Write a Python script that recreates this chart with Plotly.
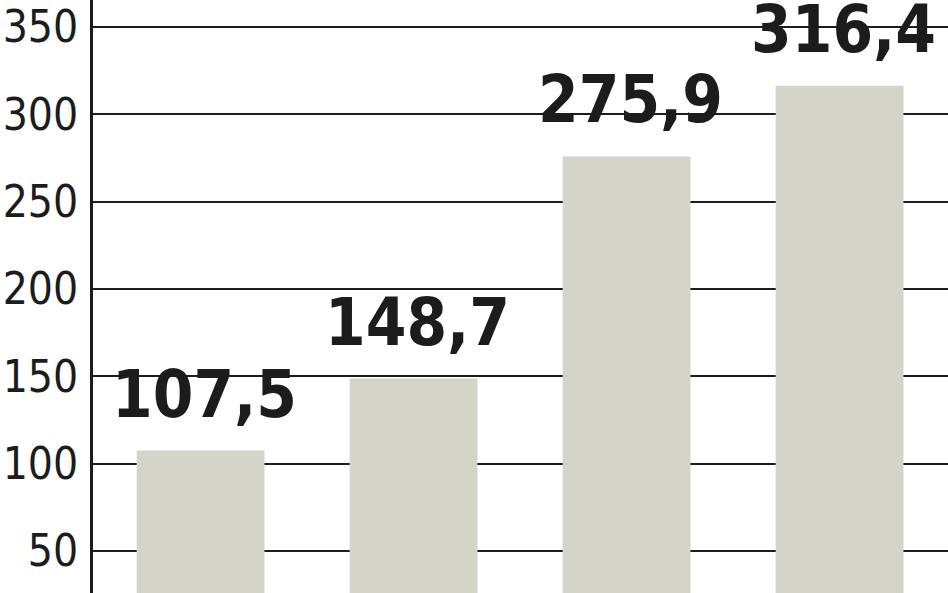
import plotly.graph_objects as go

# values (category labels are cut off in the reference)
categories = ["A", "B", "C", "D"]
values = [107.5, 148.7, 275.9, 316.4]
value_labels = ["107,5", "148,7", "275,9", "316,4"]
y_ticks = [50, 100, 150, 200, 250, 300, 350]

BAR_COLOR = "#d4d4c9"
INK = "#1c1c1c"

fig = go.Figure()
fig.add_trace(go.Bar(
    x=categories,
    y=values,
    width=0.6,
    marker=dict(color=BAR_COLOR, line=dict(width=0)),
    hoverinfo="skip",
))

# value labels sit a little above each bar
for cat, val, lab in zip(categories, values, value_labels):
    fig.add_annotation(
        x=cat, y=val, text=lab,
        showarrow=False, yanchor="bottom", xanchor="center",
        xshift=4, yshift=17,
        font=dict(family="DejaVu Sans Condensed", size=65, color=INK,
                  weight="bold"),
    )

fig.update_layout(
    width=948, height=593,
    margin=dict(l=93, r=0, t=0, b=0, autoexpand=False),
    paper_bgcolor="white", plot_bgcolor="white",
    showlegend=False,
    bargap=0.4,
)
fig.update_xaxes(
    range=[-0.505, 3.509], automargin=False,
    showticklabels=False, showgrid=False, zeroline=False,
    showline=False, ticks="",
)
fig.update_yaxes(
    range=[25.95, 365.46], automargin=False,
    tickvals=y_ticks,
    tickfont=dict(family="DejaVu Sans Condensed", size=44, color=INK),
    ticks="", ticklabelstandoff=3,
    showgrid=True, gridcolor=INK, gridwidth=2,
    zeroline=False,
    showline=True, linecolor=INK, linewidth=3,
)

# drop the page's default body margin so the figure sits at the top-left corner
fig.write_html("out.html", config={"displayModeBar": False},
               post_script="document.body.style.margin='0';")
